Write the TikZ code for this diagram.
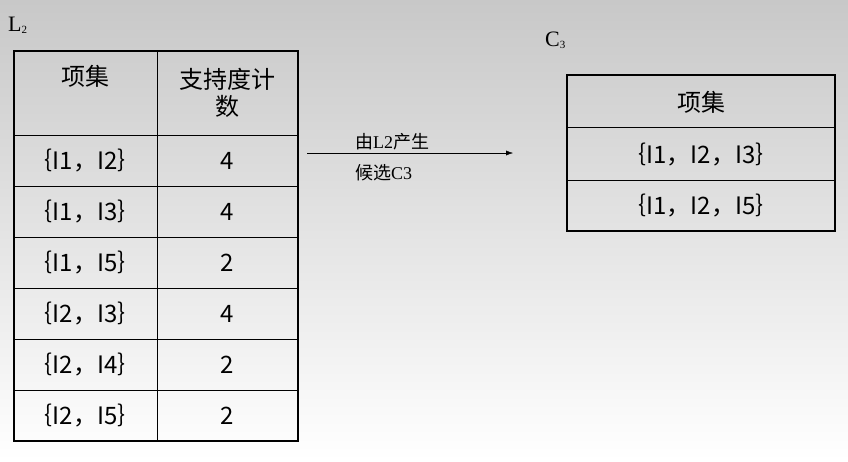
\documentclass[tikz,border=0pt]{standalone}
\usepackage{fontspec}
\usepackage{tikz}
\usetikzlibrary{positioning, arrows.meta}
\setmainfont{Liberation Serif}
\newfontfamily\cjk{Noto Sans CJK SC}
\definecolor{bgtop}{RGB}{200, 200, 200}
\definecolor{ink}{RGB}{0, 0, 0}

\begin{document}
\begin{tikzpicture}[x=1pt, y=-1pt,
        cell/.style={inner sep=0pt, font=\cjk\fontsize{24}{27}\selectfont, align=center, text=ink},
        note/.style={inner sep=0pt, anchor=west, font=\fontsize{18}{20}\selectfont}
    ]
        \shade[top color=bgtop, bottom color=white] (0,0) rectangle (848,461);
        \useasboundingbox (0,0) rectangle (848,461);

        % table L2
        \node (ltitle) [note] at (8,25) {\fontsize{22}{24}\selectfont L\raisebox{-0.2ex}{\fontsize{11}{12}\selectfont 2}};
        \draw[thin] (157,51) -- (157,441);
        \foreach \y in {135,186,237,288,339,390} \draw[thin] (14,\y) -- (298,\y);
        \draw[line width=2.5pt] (14,51) rectangle (298,441);
        \node (lhead1) [cell] at (85,76) {项集};
        \node (lhead2) [cell] at (227,93) {支持度计\\数};
        \foreach \set/\cnt [count=\i] in {{I1，I2}/4, {I1，I3}/4, {I1，I5}/2, {I2，I3}/4, {I2，I4}/2, {I2，I5}/2} {
            \node (lset\i) [cell] at (85,{135+51*(\i-0.5)}) {｛\set｝};
            \node (lcnt\i) [cell] at (227,{135+51*(\i-0.5)}) {\cnt};
        }

        % arrow
        \coordinate (astart) at (307,153);
        \coordinate (aend) at (513,153);
        \draw[-{Latex[length=7pt, width=5pt]}] (astart) -- (aend);
        \node (atop) [note] at (355,142) {\cjk 由\fontspec{Liberation Serif}L2\cjk 产生};
        \node (abot) [note] at (355,173) {\cjk 候选\fontspec{Liberation Serif}C3};

        % table C3
        \node (ctitle) [note] at (545,40) {\fontsize{22}{24}\selectfont C\raisebox{-0.2ex}{\fontsize{11}{12}\selectfont 3}};
        \foreach \y in {127,180} \draw[thin] (567,\y) -- (835,\y);
        \draw[line width=2.5pt] (567,75) rectangle (835,231);
        \node (chead) [cell] at (701,102) {项集};
        \node (cset1) [cell] at (701,155) {｛I1，I2，I3｝};
        \node (cset2) [cell] at (701,206) {｛I1，I2，I5｝};
    \end{tikzpicture}
\end{document}
